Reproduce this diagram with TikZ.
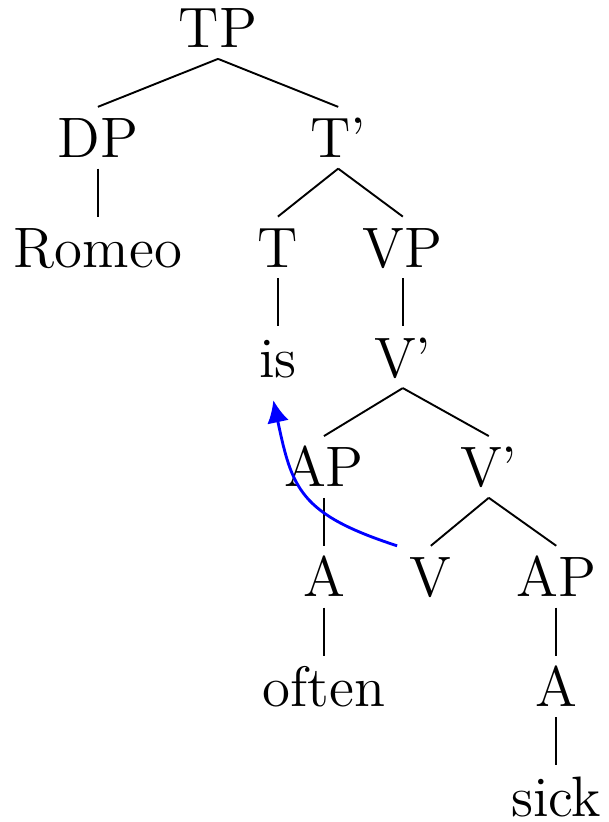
\documentclass[tikz,border=0pt,12pt]{standalone}
\usepackage{tikz}
\usetikzlibrary{arrows.meta, positioning}

\begin{document}
\begin{tikzpicture}[x=1pt, y=1pt,
    cat/.style={anchor=base, text height=8.4pt, text depth=0pt, inner ysep=2.1pt},
    move/.style={blue, semithick, -{Latex[length=4.7pt, width=4.6pt]}}]
    \useasboundingbox (0,0) rectangle (128.2,-173.05);
    % Level 0-2
    \node[cat] (tp) at (45.9,-10.1) {TP};
    \node[cat] (dp) at (20.6,-33.2) {DP};
    \node[cat] (tbar) at (71.2,-33.2) {T'};
    \node[cat] (romeo) at (20.6,-56.3) {Romeo};
    \node[cat] (t) at (58.5,-56.3) {T};
    \node[cat] (vp) at (84.8,-56.3) {VP};
    % Level 3-4
    \node[cat] (is) at (58.5,-79.4) {is};
    \node[cat] (vbar) at (84.8,-79.4) {V'};
    \node[cat] (ap) at (68.2,-102.5) {AP};
    \node[cat] (vbarb) at (102.9,-102.5) {V'};
    % Level 5-7
    \node[cat] (a) at (68.2,-125.6) {A};
    \node[cat] (v) at (90.7,-125.6) {V};
    \node[cat] (apb) at (117.1,-125.6) {AP};
    \node[cat] (often) at (68.2,-148.7) {often};
    \node[cat] (ab) at (117.1,-148.7) {A};
    \node[cat] (sick) at (117.1,-171.8) {sick};
    % Branches
    \draw (tp.south) -- (dp.north);
    \draw (tp.south) -- (tbar.north);
    \draw (dp.south) -- (romeo.north);
    \draw (tbar.south) -- (t.north);
    \draw (tbar.south) -- (vp.north);
    \draw (t.south) -- (is.north);
    \draw (vp.south) -- (vbar.north);
    \draw (vbar.south) -- (ap.north);
    \draw (vbar.south) -- (vbarb.north);
    \draw (ap.south) -- (a.north);
    \draw (vbarb.south) -- (v.north);
    \draw (vbarb.south) -- (apb.north);
    \draw (a.south) -- (often.north);
    \draw (apb.south) -- (ab.north);
    \draw (ab.south) -- (sick.north);
    % Movement
    \draw[move, shorten >=2.6pt] ([xshift=1.5pt]v.north west) to[out=162, in=-78, looseness=1.3] ([xshift=-1.5pt]is.south);
\end{tikzpicture}
\end{document}
